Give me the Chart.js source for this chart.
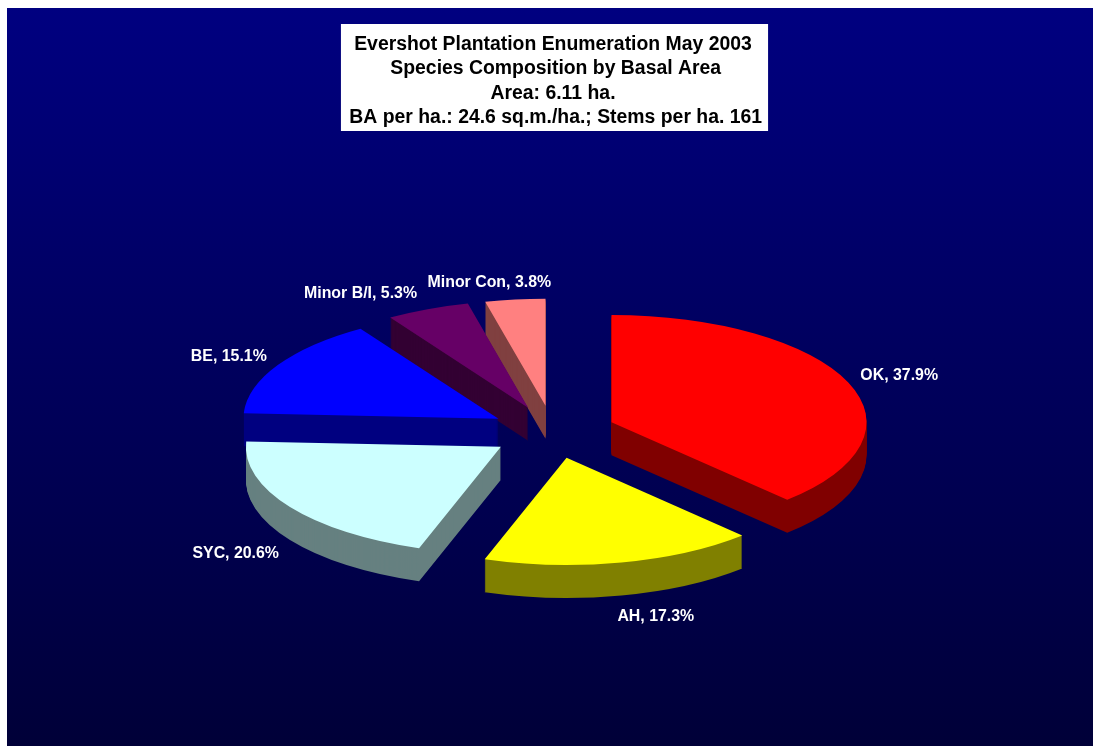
<!DOCTYPE html>
<html>
<head>
<meta charset="utf-8">
<style>html,body{margin:0;padding:0;background:#fff}#w{width:1093px;height:746px}canvas{display:block}</style>
<script src="https://cdn.jsdelivr.net/npm/chart.js@4/dist/chart.umd.min.js"></script>
</head>
<body>
<div id="w"><canvas id="c" width="1093" height="746"></canvas></div>
<script>
const species = ['OK', 'AH', 'SYC', 'BE', 'Minor B/I', 'Minor Con'];
const basalAreaPct = [37.9, 17.3, 20.6, 15.1, 5.3, 3.8];
const topColors = ['#FF0000', '#FFFF00', '#CCFFFF', '#0000FF', '#660066', '#FF8080'];
const wallColors = ['#800000', '#808000', '#668080', '#000080', '#330033', '#804040'];
const titleLines = [
  'Evershot Plantation Enumeration May 2003',
  ' Species Composition by Basal Area',
  'Area: 6.11 ha.',
  ' BA per ha.: 24.6 sq.m./ha.; Stems per ha. 161'
];

const TILT = 0.42, DEPTH = 33, EXPLODE = 63;
const paintOrder = [5, 4, 3, 0, 2, 1];
const labelAlign = ['left', 'left', 'right', 'right', 'right', 'right'];
const labelNudge = [[12, -7], [-4, 54], [-11, 47], [-11, -8.5], [-10.6, -16], [36, -17]];

function slicePose(arc) {
  const mid = (arc.startAngle + arc.endAngle) / 2;
  return { mid, ex: Math.cos(mid) * EXPLODE, ey: Math.sin(mid) * EXPLODE };
}

const tiltedPie = {
  id: 'tiltedPie',
  beforeDraw(chart) {
    const { ctx, width, height, titleBlock } = chart;
    ctx.save();
    ctx.fillStyle = '#fff';
    ctx.fillRect(0, 0, width, height);
    const g = ctx.createLinearGradient(0, 8, 0, height);
    g.addColorStop(0, '#000080');
    g.addColorStop(1, '#000038');
    ctx.fillStyle = g;
    ctx.fillRect(7, 8, width - 7, height - 8);
    ctx.font = 'bold 19.4px "Liberation Sans", Arial, sans-serif';
    const w = Math.max(...titleLines.map(t => ctx.measureText(t).width)) + 9;
    const c = (titleBlock.left + titleBlock.right) / 2 + 1.5;
    ctx.fillStyle = '#fff';
    ctx.fillRect(c - w / 2, titleBlock.top, w, titleBlock.height);
    ctx.restore();
  },
  beforeDatasetsDraw(chart) {
    const { ctx } = chart;
    const arcs = chart.getDatasetMeta(0).data;
    const paint = (arc, dy, color) => {
      const p = slicePose(arc);
      const saved = arc.options;
      arc.options = Object.assign({}, saved, { backgroundColor: color, borderWidth: 0 });
      ctx.save();
      ctx.translate(arc.x, arc.y + dy);
      ctx.scale(1, TILT);
      ctx.translate(-arc.x + p.ex, -arc.y + p.ey);
      arc.draw(ctx);
      ctx.restore();
      arc.options = saved;
    };
    paintOrder.forEach(i => {
      for (let d = DEPTH; d >= 1; d--) paint(arcs[i], d, wallColors[i]);
      paint(arcs[i], 0, topColors[i]);
    });
    ctx.save();
    ctx.font = 'bold 15.9px "Liberation Sans", Arial, sans-serif';
    ctx.fillStyle = '#fff';
    ctx.textBaseline = 'middle';
    arcs.forEach((arc, i) => {
      const p = slicePose(arc);
      const x = arc.x + p.ex + Math.cos(p.mid) * arc.outerRadius + labelNudge[i][0];
      const y = arc.y + TILT * (p.ey + Math.sin(p.mid) * arc.outerRadius) + labelNudge[i][1];
      ctx.textAlign = labelAlign[i];
      ctx.fillText(species[i] + ', ' + basalAreaPct[i].toFixed(1) + '%', x, y);
    });
    ctx.restore();
    return false;
  }
};

new Chart(document.getElementById('c'), {
  type: 'pie',
  data: {
    labels: species,
    datasets: [{ data: basalAreaPct, backgroundColor: topColors, borderWidth: 0 }]
  },
  options: {
    responsive: false,
    animation: false,
    radius: 255,
    events: [],
    layout: { padding: { left: 13, right: 0, top: 24, bottom: 13 } },
    plugins: {
      legend: { display: false },
      tooltip: { enabled: false },
      title: {
        display: true,
        text: titleLines,
        color: '#000',
        font: { family: '"Liberation Sans", Arial, sans-serif', size: 19.4, weight: 'bold', lineHeight: '24.5px' },
        padding: { top: 8, bottom: 1 }
      }
    }
  },
  plugins: [tiltedPie]
});
</script>
</body>
</html>
